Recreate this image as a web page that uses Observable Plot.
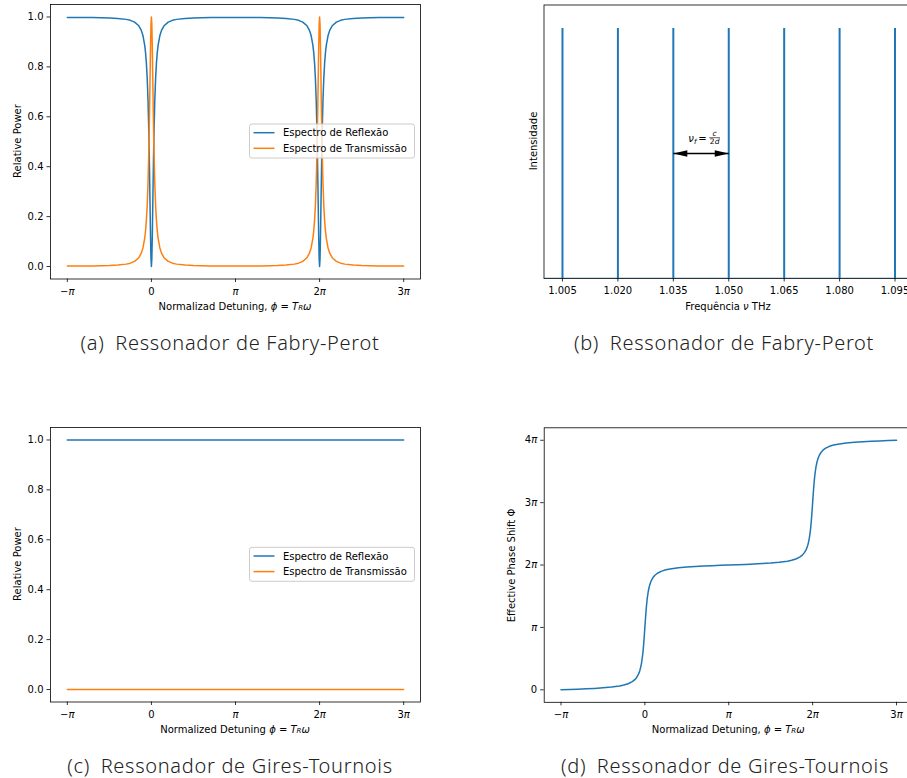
<!DOCTYPE html>
<html>
<head>
<meta charset="utf-8">
<script src="https://cdn.jsdelivr.net/npm/d3@7"></script>
<script src="https://cdn.jsdelivr.net/npm/@observablehq/plot@0.6"></script>
<style>
  html, body { margin: 0; padding: 0; background: #fff; }
  #wrap { position: relative; width: 907px; height: 778px; overflow: hidden; background: #fff; }
  .panel { position: absolute; }
  .cap { position: absolute; font-family: "Noto Sans", "Open Sans", sans-serif; font-weight: 300; font-size: 20px; letter-spacing: 0.7px; color: #222;
         white-space: pre; transform: translate(-50%, -50%); line-height: 1; }
</style>
</head>
<body>
<div id="wrap"></div>
<script>
// ---------- data ----------
// normalized detuning, in units of pi
const phi = [-1, -0.9, -0.8, -0.7, -0.6, -0.5, -0.4, -0.3, -0.25, -0.2, -0.15, -0.12, -0.1, -0.08, -0.07, -0.06, -0.05, -0.04, -0.03, -0.025, -0.02, -0.015, -0.01, -0.005,
  0,
  0.005, 0.01, 0.015, 0.02, 0.025, 0.03, 0.04, 0.05, 0.06, 0.07, 0.08, 0.1, 0.12, 0.15, 0.2, 0.25, 0.3, 0.4, 0.5, 0.6, 0.7, 0.8, 0.9,
  1,
  1.1, 1.2, 1.3, 1.4, 1.5, 1.6, 1.7, 1.75, 1.8, 1.85, 1.88, 1.9, 1.92, 1.93, 1.94, 1.95, 1.96, 1.97, 1.975, 1.98, 1.985, 1.99, 1.995,
  2,
  2.005, 2.01, 2.015, 2.02, 2.025, 2.03, 2.04, 2.05, 2.06, 2.07, 2.08, 2.1, 2.12, 2.15, 2.2, 2.25, 2.3, 2.4, 2.5, 2.6, 2.7, 2.8, 2.9,
  3];

// (a) Fabry-Perot transmission spectrum
const fpTransmission = [0.002, 0.002, 0.0022, 0.0025, 0.003, 0.004, 0.0058, 0.0096, 0.0135, 0.0205, 0.0354, 0.0538, 0.0756, 0.113, 0.142, 0.184, 0.245, 0.337, 0.474, 0.565, 0.670, 0.783, 0.890, 0.970,
  1,
  0.970, 0.890, 0.783, 0.670, 0.565, 0.474, 0.337, 0.245, 0.184, 0.142, 0.113, 0.0756, 0.0538, 0.0354, 0.0205, 0.0135, 0.0096, 0.0058, 0.004, 0.003, 0.0025, 0.0022, 0.002,
  0.002,
  0.002, 0.0022, 0.0025, 0.003, 0.004, 0.0058, 0.0096, 0.0135, 0.0205, 0.0354, 0.0538, 0.0756, 0.113, 0.142, 0.184, 0.245, 0.337, 0.474, 0.565, 0.670, 0.783, 0.890, 0.970,
  1,
  0.970, 0.890, 0.783, 0.670, 0.565, 0.474, 0.337, 0.245, 0.184, 0.142, 0.113, 0.0756, 0.0538, 0.0354, 0.0205, 0.0135, 0.0096, 0.0058, 0.004, 0.003, 0.0025, 0.0022, 0.002,
  0.002];

// (a) Fabry-Perot reflection spectrum
const fpReflection = [0.998, 0.998, 0.9978, 0.9975, 0.997, 0.996, 0.9942, 0.9904, 0.9865, 0.9795, 0.9646, 0.9462, 0.9244, 0.887, 0.858, 0.816, 0.755, 0.663, 0.526, 0.435, 0.330, 0.217, 0.110, 0.030,
  0,
  0.030, 0.110, 0.217, 0.330, 0.435, 0.526, 0.663, 0.755, 0.816, 0.858, 0.887, 0.9244, 0.9462, 0.9646, 0.9795, 0.9865, 0.9904, 0.9942, 0.996, 0.997, 0.9975, 0.9978, 0.998,
  0.998,
  0.998, 0.9978, 0.9975, 0.997, 0.996, 0.9942, 0.9904, 0.9865, 0.9795, 0.9646, 0.9462, 0.9244, 0.887, 0.858, 0.816, 0.755, 0.663, 0.526, 0.435, 0.330, 0.217, 0.110, 0.030,
  0,
  0.030, 0.110, 0.217, 0.330, 0.435, 0.526, 0.663, 0.755, 0.816, 0.858, 0.887, 0.9244, 0.9462, 0.9646, 0.9795, 0.9865, 0.9904, 0.9942, 0.996, 0.997, 0.9975, 0.9978, 0.998,
  0.998];

// (d) Gires-Tournois effective phase shift, in units of pi
const gtPhase = [0, 0.005, 0.010, 0.016, 0.023, 0.032, 0.044, 0.062, 0.076, 0.097, 0.131, 0.163, 0.195, 0.240, 0.271, 0.310, 0.360, 0.428, 0.519, 0.576, 0.643, 0.720, 0.806, 0.901,
  1,
  1.099, 1.194, 1.280, 1.357, 1.424, 1.481, 1.572, 1.640, 1.690, 1.729, 1.760, 1.805, 1.837, 1.869, 1.903, 1.924, 1.938, 1.956, 1.968, 1.977, 1.984, 1.990, 1.995,
  2,
  2.005, 2.010, 2.016, 2.023, 2.032, 2.044, 2.062, 2.076, 2.097, 2.131, 2.163, 2.195, 2.240, 2.271, 2.310, 2.360, 2.428, 2.519, 2.576, 2.643, 2.720, 2.806, 2.901,
  3,
  3.099, 3.194, 3.280, 3.357, 3.424, 3.481, 3.572, 3.640, 3.690, 3.729, 3.760, 3.805, 3.837, 3.869, 3.903, 3.924, 3.938, 3.956, 3.968, 3.977, 3.984, 3.990, 3.995,
  4];

// (c) Gires-Tournois spectra
const gtPhi = [-1, 3];
const gtReflection = [1, 1];
const gtTransmission = [0, 0];

// (b) Fabry-Perot comb
const combFreq = [1.005, 1.020, 1.035, 1.050, 1.065, 1.080, 1.095];
const combPeak = [1, 1, 1, 1, 1, 1, 1];
const fsr = { from: 1.035, to: 1.050, level: 0.5 };

// ticks
const piTicks = [-1, 0, 1, 2, 3];
const piTickLabels = ["−π", "0", "π", "2π", "3π"];
const phaseTicks = [0, 1, 2, 3, 4];
const phaseTickLabels = ["0", "π", "2π", "3π", "4π"];
const powerTicks = [0, 0.2, 0.4, 0.6, 0.8, 1.0];
const freqTicks = [1.005, 1.020, 1.035, 1.050, 1.065, 1.080, 1.095];

const legendLabels = ["Espectro de Reflexão", "Espectro de Transmissão"];
const captionLetters = ["(a)", "(b)", "(c)", "(d)"];
const captionTexts = ["Ressonador de Fabry-Perot", "Ressonador de Fabry-Perot", "Ressonador de Gires-Tournois", "Ressonador de Gires-Tournois"];

// ---------- styling ----------
const BLUE = "#1f77b4", ORANGE = "#ff7f0e";
const FONT = "'DejaVu Sans', sans-serif";
const FS = 10;
const wrap = document.getElementById("wrap");

const fpRows = phi.map((p, i) => ({ phi: p, R: fpReflection[i], T: fpTransmission[i], P: gtPhase[i] }));
const gtRows = gtPhi.map((p, i) => ({ phi: p, R: gtReflection[i], T: gtTransmission[i] }));
const combRows = combFreq.map((f, i) => ({ f, v: combPeak[i] }));

const baseStyle = { fontFamily: FONT, fontSize: FS + "px", color: "black", background: "transparent", overflow: "visible" };
const labelFrom = (ticks, labels) => d => labels[ticks.findIndex(t => Math.abs(t - d) < 1e-9)];

function place(svg, left, top) {
  svg.classList.add("panel");
  svg.style.left = left + "px";
  svg.style.top = top + "px";
  svg.style.position = "absolute";
  wrap.appendChild(svg);
}

// tspans with italic / subscript parts
function mathText(sel, parts, size) {
  let sub = false;
  for (const [t, f = ""] of parts) {
    const ts = sel.append("tspan").text(t);
    if (f.includes("i")) ts.attr("font-style", "italic");
    if (f.includes("s")) {
      ts.attr("font-size", size * 0.7);
      if (!sub) { ts.attr("dy", size * 0.22); sub = true; }
    } else if (sub) { ts.attr("dy", -size * 0.22); sub = false; }
  }
}

function addLabel(svg, x, y, parts, rotate = false) {
  const t = d3.select(svg).append("text")
    .attr("transform", `translate(${x},${y})${rotate ? " rotate(-90)" : ""}`)
    .attr("text-anchor", "middle").attr("dominant-baseline", "central")
    .attr("font-family", FONT).attr("font-size", FS).attr("fill", "black");
  mathText(t, parts, FS);
}

function italicPi(svg) {
  d3.select(svg).selectAll('g[aria-label$="tick label"] text').each(function () {
    const s = this.textContent;
    if (!s.includes("π")) return;
    const sel = d3.select(this);
    sel.text("");
    const i = s.indexOf("π");
    if (i > 0) sel.append("tspan").text(s.slice(0, i));
    sel.append("tspan").attr("font-style", "italic").text("π");
  });
}

function addLegend(svg, x, y, items) {
  const g = d3.select(svg).append("g");
  g.append("rect").attr("x", x).attr("y", y).attr("width", 165).attr("height", 34).attr("rx", 2.5)
    .attr("fill", "white").attr("fill-opacity", 0.8).attr("stroke", "#cccccc").attr("stroke-width", 1);
  items.forEach((it, i) => {
    const cy = y + 8.7 + i * 15.6;
    g.append("line").attr("x1", x + 4).attr("x2", x + 25).attr("y1", cy).attr("y2", cy)
      .attr("stroke", it.color).attr("stroke-width", 1.5);
    g.append("text").attr("x", x + 33.4).attr("y", cy).attr("dominant-baseline", "central")
      .attr("text-anchor", "start")
      .attr("font-family", FONT).attr("font-size", FS).attr("fill", "black").text(it.label);
  });
}

function spectrumPlot(rows) {
  return Plot.plot({
    width: 440, height: 320, marginLeft: 50, marginRight: 20, marginTop: 4, marginBottom: 41.5,
    style: baseStyle,
    x: { domain: [-1.2, 3.2] },
    y: { domain: [-0.05, 1.05] },
    marks: [
      Plot.line(rows, { x: "phi", y: "R", stroke: BLUE, strokeWidth: 1.5 }),
      Plot.line(rows, { x: "phi", y: "T", stroke: ORANGE, strokeWidth: 1.5 }),
      Plot.frame({ stroke: "black", strokeWidth: 0.8 }),
      Plot.axisX({ ticks: piTicks, tickFormat: labelFrom(piTicks, piTickLabels), tickSize: 3.5, tickPadding: 5, strokeWidth: 0.8, label: null, fontSize: FS }),
      Plot.axisY({ ticks: powerTicks, tickFormat: d3.format(".1f"), tickSize: 3.5, tickPadding: 3.5, strokeWidth: 0.8, label: null, fontSize: FS })
    ]
  });
}

// ---------- (a) ----------
const A = spectrumPlot(fpRows);
italicPi(A);
addLabel(A, 235, 306, [["Normalizad Detuning, "], ["ϕ", "i"], [" = "], ["T", "i"], ["R", "is"], ["ω", "i"]]);
addLabel(A, 16.5, 141, [["Relative Power"]], true);
addLegend(A, 249.5, 124, [{ color: BLUE, label: legendLabels[0] }, { color: ORANGE, label: legendLabels[1] }]);
place(A, 0, 0);

// ---------- (b) ----------
const arrowHead = {
  draw(ctx) { ctx.moveTo(0, 0); ctx.lineTo(-14, -3.2); ctx.lineTo(-14, 3.2); ctx.closePath(); }
};
const B = Plot.plot({
  width: 430, height: 320, marginLeft: 53.5, marginRight: 7, marginTop: 4.5, marginBottom: 42,
  style: baseStyle,
  x: { domain: [1.0, 1.1] },
  y: { domain: [0, 1.094], axis: null },
  marks: [
    Plot.ruleY([0], { stroke: BLUE, strokeWidth: 1.5, clip: true }),
    Plot.ruleX(combRows, { x: "f", y1: 0, y2: "v", stroke: BLUE, strokeWidth: 2 }),
    Plot.link([fsr], { x1: "from", x2: "to", y1: "level", y2: "level", stroke: "black", strokeWidth: 1.3 }),
    Plot.dot([{ x: fsr.from, a: 180 }, { x: fsr.to, a: 0 }], { x: "x", y: () => fsr.level, rotate: "a", symbol: arrowHead, r: 5, fill: "black", stroke: "none" }),
    Plot.frame({ stroke: "black", strokeWidth: 0.8 }),
    Plot.axisX({ ticks: freqTicks, tickFormat: d3.format(".3f"), tickSize: 3.5, tickPadding: 5, strokeWidth: 0.8, label: null, fontSize: FS })
  ]
});
{
  const sx = B.scale("x"), sy = B.scale("y");
  const cx = sx.apply((fsr.from + fsr.to) / 2), ay = sy.apply(fsr.level);
  const g = d3.select(B).append("g").attr("font-family", FONT).attr("fill", "black");
  const t1 = g.append("text").attr("x", cx - 12.2).attr("y", ay - 11).attr("font-size", FS).attr("text-anchor", "start");
  mathText(t1, [["ν", "i"], ["f", "is"]], FS);
  g.append("text").attr("x", cx + 2).attr("y", ay - 11).attr("font-size", FS).attr("text-anchor", "middle").text("=");
  g.append("line").attr("x1", cx + 8.8).attr("x2", cx + 19.4).attr("y1", ay - 15.3).attr("y2", ay - 15.3).attr("stroke", "black").attr("stroke-width", 0.6);
  g.append("text").attr("x", cx + 14.1).attr("y", ay - 16.6).attr("font-size", 7.5).attr("font-style", "italic").attr("text-anchor", "middle").text("c");
  const t2 = g.append("text").attr("x", cx + 14.1).attr("y", ay - 9.2).attr("font-size", 7.5).attr("text-anchor", "middle");
  t2.append("tspan").text("2");
  t2.append("tspan").attr("font-style", "italic").text("d");
}
addLabel(B, 238, 306, [["Frequência "], ["ν", "i"], [" THz"]]);
addLabel(B, 43.3, 141, [["Intensidade"]], true);
place(B, 490, 0);

// ---------- (c) ----------
const C = spectrumPlot(gtRows);
italicPi(C);
addLabel(C, 235, 306, [["Normalized Detuning "], ["ϕ", "i"], [" = "], ["T", "i"], ["R", "is"], ["ω", "i"]]);
addLabel(C, 16.5, 141, [["Relative Power"]], true);
addLegend(C, 249.5, 124.3, [{ color: BLUE, label: legendLabels[0] }, { color: ORANGE, label: legendLabels[1] }]);
place(C, 0, 423);

// ---------- (d) ----------
const D = Plot.plot({
  width: 430, height: 320, marginLeft: 53.7, marginRight: 7.2, marginTop: 4.3, marginBottom: 41.2,
  style: baseStyle,
  x: { domain: [-1.2, 3.2] },
  y: { domain: [-0.2, 4.2] },
  marks: [
    Plot.line(fpRows, { x: "phi", y: "P", stroke: BLUE, strokeWidth: 1.5 }),
    Plot.frame({ stroke: "black", strokeWidth: 0.8 }),
    Plot.axisX({ ticks: piTicks, tickFormat: labelFrom(piTicks, piTickLabels), tickSize: 3.5, tickPadding: 5, strokeWidth: 0.8, label: null, fontSize: FS }),
    Plot.axisY({ ticks: phaseTicks, tickFormat: labelFrom(phaseTicks, phaseTickLabels), tickSize: 3.5, tickPadding: 3.5, strokeWidth: 0.8, label: null, fontSize: FS })
  ]
});
italicPi(D);
addLabel(D, 238.2, 306, [["Normalizad Detuning, "], ["ϕ", "i"], [" = "], ["T", "i"], ["R", "is"], ["ω", "i"]]);
addLabel(D, 20.7, 142.5, [["Effective Phase Shift Φ"]], true);
place(D, 490, 423);

// ---------- captions ----------
const capPos = [[230, 343], [724, 343], [230, 766], [725, 766]];
captionLetters.forEach((l, i) => {
  const d = document.createElement("div");
  d.className = "cap";
  d.textContent = l + "\u2002" + captionTexts[i];
  d.style.left = capPos[i][0] + "px";
  d.style.top = capPos[i][1] + "px";
  wrap.appendChild(d);
});
</script>
</body>
</html>
